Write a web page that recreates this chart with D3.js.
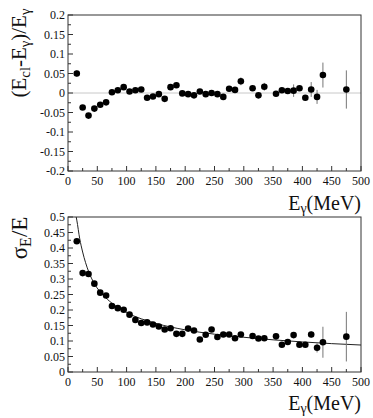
<!DOCTYPE html>
<html>
<head>
<meta charset="utf-8">
<script src="https://cdn.jsdelivr.net/npm/d3@7"></script>
<style>
    body { margin: 0; background: #fff; }
    svg text { font-family: "Liberation Serif", "DejaVu Serif", serif; fill: #111; }
</style>
</head>
<body>
<div id="chart"></div>
<script>
// photon energies of the bins (MeV)
const energies = [15, 25, 35, 45, 55, 65, 75, 85, 95, 105, 115, 125, 135, 145, 155, 165, 175, 185, 195, 205,
    215, 225, 235, 245, 255, 265, 275, 285, 295, 315, 325, 335, 355, 365, 375, 385, 395, 405, 415, 425, 435, 475];

// (Ecl - Eg)/Eg
const offsetValues = [0.050, -0.037, -0.058, -0.040, -0.030, -0.024, 0.002, 0.007, 0.015, 0.004,
    0.007, 0.009, -0.012, -0.009, -0.003, -0.015, 0.015, 0.020, -0.001, -0.003,
    -0.006, 0.004, -0.003, 0.000, -0.003, -0.010, 0.011, 0.008, 0.030,
    0.012, -0.006, 0.016, -0.002, 0.007, 0.005, 0.006, 0.012, -0.012, 0.009, -0.010, 0.046, 0.009];
const offsetErrors = [0.008, 0.005, 0.005, 0.005, 0.005, 0.005, 0.005, 0.005, 0.005, 0.005,
    0.005, 0.005, 0.005, 0.005, 0.005, 0.005, 0.005, 0.005, 0.005, 0.005,
    0.005, 0.005, 0.005, 0.005, 0.005, 0.005, 0.005, 0.005, 0.010,
    0.005, 0.005, 0.010, 0.005, 0.005, 0.005, 0.016, 0.005, 0.005, 0.019, 0.018, 0.032, 0.049];

// sigma_E / E
const resValues = [0.422, 0.319, 0.316, 0.285, 0.256, 0.247, 0.213, 0.206, 0.201, 0.185,
    0.168, 0.158, 0.160, 0.153, 0.147, 0.137, 0.141, 0.123, 0.123, 0.140,
    0.134, 0.105, 0.120, 0.137, 0.113, 0.121, 0.121, 0.109, 0.121,
    0.116, 0.108, 0.109, 0.115, 0.088, 0.097, 0.119, 0.088, 0.088, 0.121, 0.078, 0.096, 0.114];
const resErrors = [0.005, 0.005, 0.005, 0.005, 0.005, 0.005, 0.005, 0.005, 0.005, 0.005,
    0.005, 0.005, 0.005, 0.005, 0.005, 0.005, 0.005, 0.005, 0.005, 0.005,
    0.005, 0.005, 0.005, 0.005, 0.005, 0.005, 0.005, 0.005, 0.005,
    0.005, 0.005, 0.005, 0.005, 0.005, 0.005, 0.008, 0.005, 0.005, 0.010, 0.015, 0.050, 0.080];

// fitted resolution curve
const fitEnergies = [14, 15, 20, 25, 35, 45, 60, 75, 100, 150, 200, 250, 300, 400, 500];
const fitValues = [0.5, 0.49, 0.43, 0.387, 0.325, 0.285, 0.248, 0.222, 0.192, 0.157, 0.136, 0.122, 0.112, 0.097, 0.087];

// tick labels
const xTicks = [0, 50, 100, 150, 200, 250, 300, 350, 400, 450, 500];
const offsetTicks = [0.2, 0.15, 0.1, 0.05, 0, -0.05, -0.1, -0.15, -0.2];
const resTicks = [0.5, 0.45, 0.4, 0.35, 0.3, 0.25, 0.2, 0.15, 0.1, 0.05, 0];

let svg = d3.select("#chart").append("svg")
    .attr("width", 373)
    .attr("height", 418);

let x = d3.scaleLinear().domain([0, 500]).range([68, 361]);

function drawPanel(opts) {
    let y = d3.scaleLinear().domain(opts.domain).range([opts.bottom, opts.top]);
    let g = svg.append("g");
    let fmt = function (v) { return String(+v.toFixed(2)); };

    if (opts.zeroLine) {
        g.append("line")
            .attr("x1", x(0)).attr("x2", x(500))
            .attr("y1", y(0)).attr("y2", y(0))
            .attr("stroke", "#c8c8c8").attr("stroke-width", 1);
    }

    // minor / major ticks, drawn inward
    let xMinor = d3.range(0, 501, 25);
    g.selectAll("line.xt").data(xMinor).enter().append("line")
        .attr("class", "xt")
        .attr("x1", function (d) { return x(d); })
        .attr("x2", function (d) { return x(d); })
        .attr("y1", opts.bottom)
        .attr("y2", function (d) { return opts.bottom - (d % 50 === 0 ? 5 : 3); })
        .attr("stroke", "#333");

    let yStep = opts.ticks[0] - opts.ticks[1];
    let yMinor = d3.range(0, (opts.ticks.length - 1) * 2 + 1).map(function (i) {
        return opts.domain[0] + i * yStep / 2;
    });
    g.selectAll("line.yt").data(yMinor).enter().append("line")
        .attr("class", "yt")
        .attr("x1", x(0))
        .attr("x2", function (d, i) { return x(0) + (i % 2 === 0 ? 5 : 3); })
        .attr("y1", function (d) { return y(d); })
        .attr("y2", function (d) { return y(d); })
        .attr("stroke", "#333");

    g.append("rect")
        .attr("x", x(0)).attr("y", opts.top)
        .attr("width", x(500) - x(0)).attr("height", opts.bottom - opts.top)
        .attr("fill", "none").attr("stroke", "#333").attr("stroke-width", 1);

    g.selectAll("text.yl").data(opts.ticks).enter().append("text")
        .attr("class", "yl")
        .attr("x", x(0) - 3)
        .attr("y", function (d) { return y(d); })
        .attr("dy", "0.35em")
        .attr("text-anchor", "end")
        .attr("font-size", 12)
        .text(fmt);

    g.selectAll("text.xl").data(xTicks).enter().append("text")
        .attr("class", "xl")
        .attr("x", function (d) { return x(d); })
        .attr("y", opts.bottom + 13.5)
        .attr("text-anchor", "middle")
        .attr("font-size", 12)
        .text(function (d) { return d; });

    if (opts.fit) {
        let line = d3.line()
            .x(function (d) { return x(d[0]); })
            .y(function (d) { return y(d[1]); })
            .curve(d3.curveMonotoneX);
        g.append("path")
            .datum(d3.zip(fitEnergies, fitValues))
            .attr("d", line)
            .attr("fill", "none")
            .attr("stroke", "#222")
            .attr("stroke-width", 1);
    }

    let pts = energies.map(function (e, i) {
        return {e: e, v: opts.values[i], err: opts.errors[i]};
    });

    g.selectAll("line.err").data(pts).enter().append("line")
        .attr("class", "err")
        .attr("x1", function (d) { return x(d.e); })
        .attr("x2", function (d) { return x(d.e); })
        .attr("y1", function (d) { return y(d.v - d.err); })
        .attr("y2", function (d) { return y(d.v + d.err); })
        .attr("stroke", "#777")
        .attr("stroke-width", 1);

    g.selectAll("circle").data(pts).enter().append("circle")
        .attr("cx", function (d) { return x(d.e); })
        .attr("cy", function (d) { return y(d.v); })
        .attr("r", 3.3)
        .attr("fill", "#000");

    // x axis title
    let xt = g.append("text")
        .attr("x", x(500))
        .attr("y", opts.xTitleY)
        .attr("text-anchor", "end")
        .attr("font-size", 20);
    xt.append("tspan").text("E");
    xt.append("tspan").attr("font-size", 14).attr("dy", 3).text("γ");
    xt.append("tspan").attr("dy", -3).text("(MeV)");

    // y axis title
    let yt = g.append("text")
        .attr("transform", "translate(" + opts.yTitleX + "," + opts.yTitleY + ") rotate(-90)")
        .attr("text-anchor", "middle")
        .attr("font-size", opts.yTitleSize);
    opts.yTitle.forEach(function (part) {
        let t = yt.append("tspan").text(part[0]);
        if (part[1]) t.attr("font-size", opts.yTitleSize * 0.7);
        if (part[2]) t.attr("dy", part[2]);
    });
}

drawPanel({
    domain: [-0.2, 0.2], top: 15, bottom: 171,
    ticks: offsetTicks, values: offsetValues, errors: offsetErrors,
    zeroLine: true, fit: false,
    xTitleY: 210, yTitleX: 26, yTitleY: 53, yTitleSize: 21,
    yTitle: [["(E"], ["cl", true, 4], ["-E", false, -4], ["γ", true, 4], [")/E", false, -4], ["γ", true, 4]]
});

drawPanel({
    domain: [0, 0.5], top: 217, bottom: 372,
    ticks: resTicks, values: resValues, errors: resErrors,
    zeroLine: false, fit: true,
    xTitleY: 410, yTitleX: 27, yTitleY: 238, yTitleSize: 23,
    yTitle: [["σ"], ["E", true, 4], ["/E", false, -4]]
});
</script>
</body>
</html>
